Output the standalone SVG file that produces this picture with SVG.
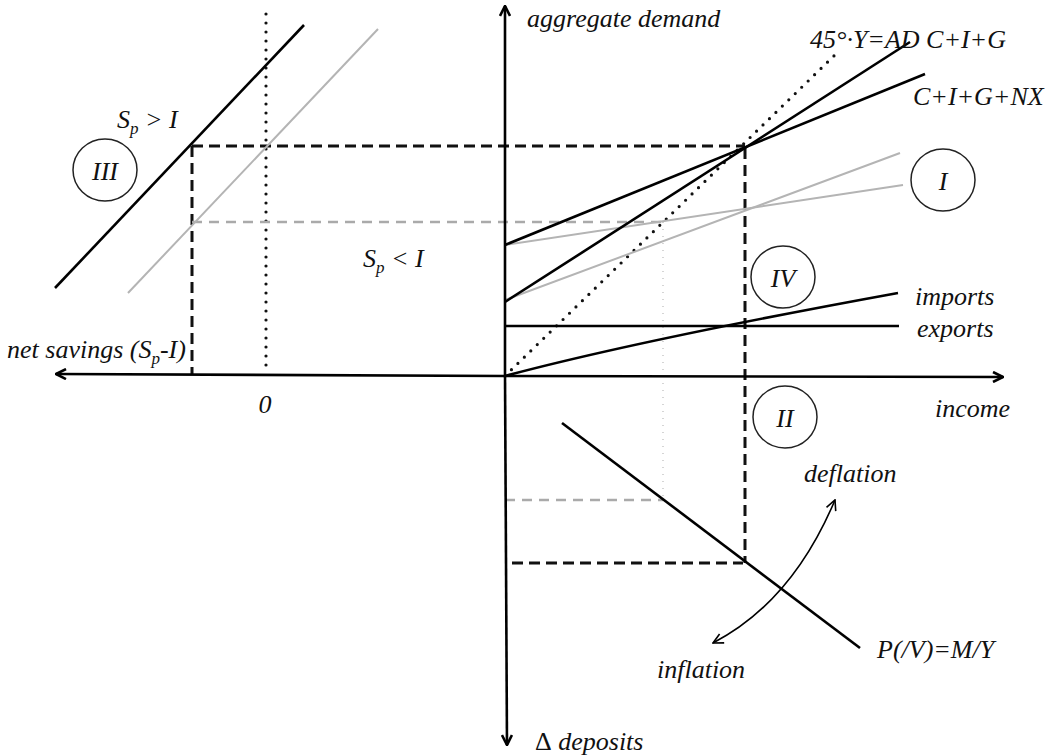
<svg xmlns="http://www.w3.org/2000/svg" width="1049" height="755" viewBox="0 0 1049 755">
<style>
text{font-family:"Liberation Serif","Times New Roman",serif;font-style:italic;font-size:26px;fill:#111}
.sub{font-size:17px}
.ax{stroke:#000;stroke-width:2.6;fill:none}
.blk{stroke:#000;stroke-width:2.6;fill:none}
.gry{stroke:#b4b4b4;stroke-width:2;fill:none}
.dashk{stroke:#111;stroke-width:3;stroke-dasharray:11 6;fill:none}
.dashg{stroke:#aaa;stroke-width:2.5;stroke-dasharray:10 7;fill:none}
.dotk{stroke:#111;stroke-width:3.2;stroke-dasharray:0 9;stroke-linecap:round;fill:none}
.dotg{stroke:#c8c8c8;stroke-width:1.5;stroke-dasharray:1 6;fill:none}
.circ{stroke:#222;stroke-width:1.5;fill:#fff}
</style>
<defs>
<marker id="ah" viewBox="0 0 12 12" refX="11" refY="6" markerWidth="12" markerHeight="12" markerUnits="userSpaceOnUse" orient="auto-start-reverse">
<path d="M1,1 L11,6 L1,11" fill="none" stroke="#000" stroke-width="2.6"/>
</marker>
<marker id="ah2" viewBox="0 0 12 12" refX="11" refY="6" markerWidth="12" markerHeight="12" markerUnits="userSpaceOnUse" orient="auto-start-reverse">
<path d="M1,1 L11,6 L1,11" fill="none" stroke="#000" stroke-width="1.6"/>
</marker>
</defs>
<rect width="1049" height="755" fill="#fff"/>

<g id="connectors">
<line class="dotk" x1="266" y1="14" x2="266" y2="374"/>
<line class="dashk" x1="192" y1="146" x2="745" y2="146"/>
<line class="dashk" x1="192" y1="146" x2="192" y2="374"/>
<line class="dashk" x1="745" y1="148" x2="745" y2="563"/>
<line class="dashk" x1="512" y1="563" x2="743" y2="563"/>
<line class="dashg" x1="192" y1="222" x2="663" y2="222"/>
<line class="dotg" x1="663" y1="222" x2="663" y2="500"/>
<line class="dashg" x1="505" y1="500" x2="663" y2="500"/>

<line class="gry" x1="128" y1="293" x2="378" y2="29"/>
<line class="blk" x1="55" y1="288" x2="304" y2="25"/>

<line class="dotk" x1="505" y1="376" x2="840" y2="50"/>
<line class="gry" x1="505" y1="245" x2="903" y2="185"/>
<line class="gry" x1="505" y1="300" x2="900" y2="153"/>
<line class="blk" x1="505" y1="302" x2="910" y2="42"/>
<line class="blk" x1="505" y1="245" x2="925" y2="74"/>

<line class="blk" x1="505" y1="326" x2="899" y2="326"/>
<path class="blk" d="M505,376 Q640,340 898,293"/>

<line class="blk" x1="562" y1="423" x2="860" y2="648"/>
<path d="M713,643 Q792,602 835,500" fill="none" stroke="#000" stroke-width="1.6" marker-start="url(#ah2)" marker-end="url(#ah2)"/>

<line class="ax" x1="505" y1="374" x2="505" y2="6" marker-end="url(#ah)"/>
<line class="ax" x1="505" y1="374" x2="507" y2="745" marker-end="url(#ah)"/>
<line class="ax" x1="505" y1="376" x2="56" y2="374" marker-end="url(#ah)"/>
<line class="ax" x1="505" y1="376" x2="1003" y2="377" marker-end="url(#ah)"/>
</g>

<g id="node-III">
<ellipse class="circ" cx="105" cy="170" rx="32" ry="31"/>
<text x="105" y="180" text-anchor="middle">III</text>
</g>
<g id="node-I">
<ellipse class="circ" cx="943" cy="180" rx="32" ry="31"/>
<text x="943" y="190" text-anchor="middle">I</text>
</g>
<g id="node-IV">
<ellipse class="circ" cx="783" cy="277" rx="32" ry="31"/>
<text x="783" y="287" text-anchor="middle">IV</text>
</g>
<g id="node-II">
<ellipse class="circ" cx="785" cy="417" rx="32" ry="31"/>
<text x="785" y="427" text-anchor="middle">II</text>
</g>

<g id="labels">
<text x="527" y="27">aggregate demand</text>
<text x="810" y="48">45°·Y=AD C+I+G</text>
<text x="913" y="105">C+I+G+NX</text>
<text x="915" y="305">imports</text>
<text x="917" y="337">exports</text>
<text x="935" y="417">income</text>
<text x="804" y="482">deflation</text>
<text x="877" y="658">P(/V)=M/Y</text>
<text x="657" y="678">inflation</text>
<text x="535" y="750"><tspan style="font-style:normal">Δ</tspan> deposits</text>
<text x="7" y="358">net savings (S<tspan class="sub" dy="6">p</tspan><tspan dy="-6">-I)</tspan></text>
<text x="265" y="413" text-anchor="middle">0</text>
<text x="117" y="128">S<tspan class="sub" dy="6">p</tspan><tspan dy="-6"> &gt; I</tspan></text>
<text x="363" y="267">S<tspan class="sub" dy="6">p</tspan><tspan dy="-6"> &lt; I</tspan></text>
</g>
</svg>
